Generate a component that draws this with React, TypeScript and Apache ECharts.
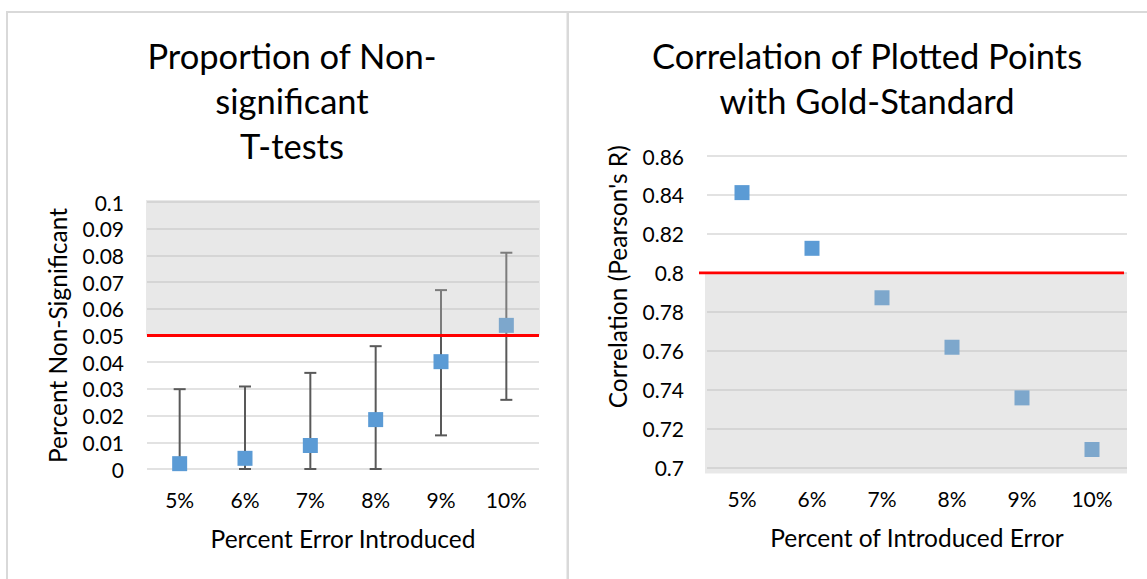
import React, { useEffect, useRef } from "react";
import * as echarts from "echarts";

const categories = ["5%", "6%", "7%", "8%", "9%", "10%"];

// Left chart: proportion of non-significant t-tests
const propValues = [0.002, 0.004, 0.0088, 0.0185, 0.0402, 0.0538];
const propLow = [0, 0, 0, 0, 0.0126, 0.0259];
const propHigh = [0.0299, 0.0309, 0.036, 0.046, 0.067, 0.081];
const propThreshold = 0.05;
const propAxis = { min: 0, max: 0.1, interval: 0.01 };

// Right chart: correlation with gold standard
const corrValues = [0.8412, 0.8126, 0.7872, 0.7618, 0.7358, 0.7093];
const corrThreshold = 0.8;
const corrAxis = { min: 0.7, max: 0.86, interval: 0.02 };

const FONT = "Lato";
const BLUE = "#5B9BD5";
const GRID = "#D9D9D9";
const OVERLAY = "rgba(190,190,190,0.35)";

const fmt = (v: number) => String(+v.toFixed(2));

function overlayRenderer(direction: "above" | "below", lineOffset: [number, number]) {
  return (params: any, api: any) => {
    const cs = params.coordSys;
    const ty = api.coord([0, api.value(1)])[1];
    const rect =
      direction === "above"
        ? { x: cs.x - 1, y: cs.y - 2, width: cs.width + 2, height: ty - cs.y + 2 }
        : { x: cs.x - 2, y: ty, width: cs.width + 2, height: cs.y + cs.height + 6 - ty };
    return {
      type: "group",
      children: [
        { type: "rect", shape: rect, style: { fill: OVERLAY } },
        {
          type: "line",
          shape: { x1: cs.x + lineOffset[0], y1: ty, x2: cs.x + cs.width + lineOffset[1], y2: ty },
          style: { stroke: "#FF0000", lineWidth: 2.8 },
        },
      ],
    };
  };
}

function errorBarRenderer(params: any, api: any) {
  const x = api.value(0);
  const lo = api.coord([x, api.value(1)]);
  const hi = api.coord([x, api.value(2)]);
  const hw = 6;
  const style = { stroke: "#595959", lineWidth: 2 };
  return {
    type: "group",
    children: [
      { type: "line", shape: { x1: lo[0], y1: lo[1], x2: hi[0], y2: hi[1] }, style },
      { type: "line", shape: { x1: lo[0] - hw, y1: lo[1], x2: lo[0] + hw, y2: lo[1] }, style },
      { type: "line", shape: { x1: hi[0] - hw, y1: hi[1], x2: hi[0] + hw, y2: hi[1] }, style },
    ],
  };
}

function xAxisCfg(gridIndex: number, name: string) {
  return {
    type: "category",
    gridIndex,
    data: categories,
    boundaryGap: true,
    axisLine: { show: false },
    axisTick: { show: false },
    axisLabel: { color: "#000", fontFamily: FONT, fontSize: 21, margin: 20 },
    name,
    nameLocation: "middle",
    nameGap: 57,
    nameTextStyle: { color: "#000", fontFamily: FONT, fontSize: 24.5 },
  };
}

function yAxisCfg(gridIndex: number, ax: any, name: string, padding: number[]) {
  return {
    type: "value",
    gridIndex,
    min: ax.min,
    max: ax.max,
    interval: ax.interval,
    axisLine: { show: false },
    axisTick: { show: false },
    splitLine: { show: true, lineStyle: { color: GRID, width: 1.5 } },
    axisLabel: { color: "#000", fontFamily: FONT, fontSize: 21, margin: 23, formatter: fmt },
    name,
    nameLocation: "middle",
    nameRotate: 90,
    nameGap: 77,
    nameTextStyle: { color: "#000", fontFamily: FONT, fontSize: 24.5, padding },
  };
}

export default function App() {
  const ref = useRef<HTMLDivElement>(null);
  useEffect(() => {
    if (!ref.current) return;
    const chart = echarts.init(ref.current, null, { renderer: "svg" });
    const titleStyle = { color: "#000", fontFamily: FONT, fontSize: 34.5, fontWeight: "normal", lineHeight: 45 };
    chart.setOption({
      animation: false,
      backgroundColor: "#fff",
      title: [
        { text: "Proportion of Non-\nsignificant\nT-tests", left: 287, top: 28, textAlign: "center", textStyle: titleStyle },
        { text: "Correlation of Plotted Points\nwith Gold-Standard", left: 862, top: 28, textAlign: "center", textStyle: titleStyle },
      ],
      graphic: [
        { type: "rect", shape: { x: 7, y: 11, width: 1140, height: 2 }, style: { fill: GRID } },
        { type: "rect", shape: { x: 6, y: 11, width: 2, height: 570 }, style: { fill: GRID } },
        { type: "rect", shape: { x: 566.5, y: 11, width: 2.5, height: 570 }, style: { fill: GRID } },
      ],
      grid: [
        { left: 147, top: 202, width: 392, height: 267 },
        { left: 707, top: 156, width: 420, height: 311.6 },
      ],
      xAxis: [xAxisCfg(0, "Percent Error Introduced"), xAxisCfg(1, "Percent of Introduced Error")],
      yAxis: [
        yAxisCfg(0, propAxis, "Percent Non-Significant", [0, 0, 0, 0]),
        yAxisCfg(1, corrAxis, "Correlation (Pearson's R)", [0, 0, 0, 70]),
      ],
      series: [
        {
          type: "custom",
          name: "error",
          xAxisIndex: 0,
          yAxisIndex: 0,
          z: 2,
          renderItem: errorBarRenderer,
          encode: { x: 0, y: [1, 2] },
          data: categories.map((_, i) => [i, propLow[i], propHigh[i]]),
        },
        {
          type: "scatter",
          xAxisIndex: 0,
          yAxisIndex: 0,
          z: 3,
          symbol: "rect",
          symbolSize: 15,
          itemStyle: { color: BLUE, opacity: 1 },
          data: propValues,
        },
        {
          type: "custom",
          xAxisIndex: 0,
          yAxisIndex: 0,
          z: 4,
          renderItem: overlayRenderer("above", [0, 0]),
          encode: { x: 0, y: 1 },
          data: [[0, propThreshold]],
        },
        {
          type: "scatter",
          xAxisIndex: 1,
          yAxisIndex: 1,
          z: 3,
          symbol: "rect",
          symbolSize: 15,
          itemStyle: { color: BLUE, opacity: 1 },
          data: corrValues,
        },
        {
          type: "custom",
          xAxisIndex: 1,
          yAxisIndex: 1,
          z: 4,
          renderItem: overlayRenderer("below", [-8, -3]),
          encode: { x: 0, y: 1 },
          data: [[0, corrThreshold]],
        },
      ],
    });
    return () => chart.dispose();
  }, []);
  return (
    <div
      ref={ref}
      style={{ position: "absolute", left: 0, top: 0, width: 1147, height: 579, background: "#fff" }}
    />
  );
}
